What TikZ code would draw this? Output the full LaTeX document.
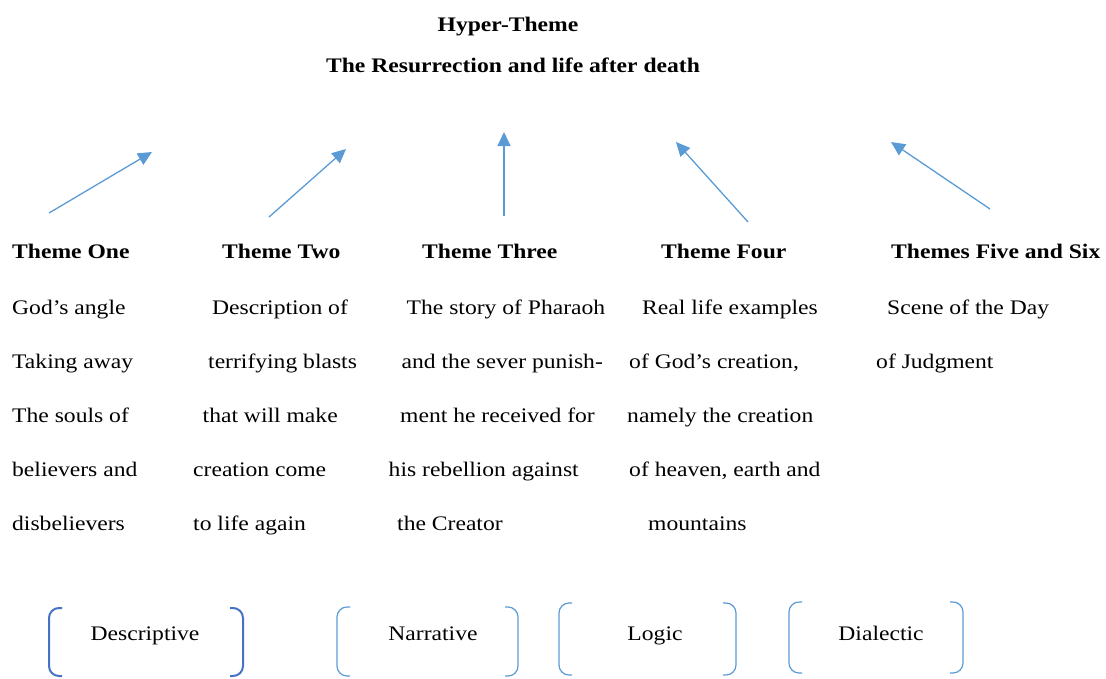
\documentclass[tikz,border=0pt]{standalone}
\usepackage{fontspec}
\setmainfont{Liberation Serif}[FakeStretch=1.14]
\usetikzlibrary{arrows.meta}
\definecolor{arrowblue}{HTML}{5B9BD5}
\definecolor{darkblue}{HTML}{4472C4}
\tikzset{
  txt/.style={anchor=base west, inner sep=0pt, font=\fontsize{20.7}{24}\selectfont},
  hd/.style={anchor=base west, inner sep=0pt, font=\fontsize{20.7}{24}\selectfont\bfseries},
  ttl/.style={anchor=base, inner sep=0pt, font=\fontsize{20.7}{24}\selectfont\bfseries},
  lbl/.style={anchor=base, inner sep=0pt, font=\fontsize{20.7}{24}\selectfont},
  upar/.style={draw=arrowblue, line width=1.3pt, -{Triangle[length=14pt,width=13pt]}},
  brk/.style={draw=arrowblue, line width=1.2pt, rounded corners=10pt},
  brkdark/.style={brk, draw=darkblue, line width=2pt}
}
\begin{document}
\begin{tikzpicture}[x=1pt,y=-1pt]
\useasboundingbox (0,0) rectangle (1106,678);
% title
\node[ttl] (hyper) at (508,31) {Hyper-Theme};
\node[ttl] (resur) at (513,72) {The Resurrection and life after death};
% arrows
\coordinate (a1s) at (49,213);  \coordinate (a1e) at (152,152);
\coordinate (a2s) at (269,217); \coordinate (a2e) at (346,149);
\coordinate (a3s) at (504,216); \coordinate (a3e) at (504,132);
\coordinate (a4s) at (748,222); \coordinate (a4e) at (676,142);
\coordinate (a5s) at (990,209); \coordinate (a5e) at (891,142);
\draw[upar] (a1s) -- (a1e);
\draw[upar] (a2s) -- (a2e);
\draw[upar] (a3s) -- (a3e);
\draw[upar] (a4s) -- (a4e);
\draw[upar] (a5s) -- (a5e);
% headings
\node[hd] (h1) at (12,258) {Theme One};
\node[hd] (h2) at (222,258) {Theme Two};
\node[hd] (h3) at (422,258) {Theme Three};
\node[hd] (h4) at (661,258) {Theme Four};
\node[hd] (h5) at (891,258) {Themes Five and Six};
% column 1
\node[txt] (c1a) at (12,314) {God’s angle};
\node[txt] (c1b) at (12,368) {Taking away};
\node[txt] (c1c) at (12,422) {The souls of};
\node[txt] (c1d) at (12,476) {believers and};
\node[txt] (c1e) at (12,530) {disbelievers};
% column 2
\node[txt] (c2a) at (212,314) {Description of};
\node[txt] (c2b) at (208,368) {terrifying blasts};
\node[txt] (c2c) at (202.5,422) {that will make};
\node[txt] (c2d) at (193,476) {creation come};
\node[txt] (c2e) at (193,530) {to life again};
% column 3
\node[txt] (c3a) at (406.5,314) {The story of Pharaoh};
\node[txt] (c3b) at (401.5,368) {and the sever punish-};
\node[txt] (c3c) at (400,422) {ment he received for};
\node[txt] (c3d) at (388.5,476) {his rebellion against};
\node[txt] (c3e) at (397,530) {the Creator};
% column 4
\node[txt] (c4a) at (642,314) {Real life examples};
\node[txt] (c4b) at (629,368) {of God’s creation,};
\node[txt] (c4c) at (627,422) {namely the creation};
\node[txt] (c4d) at (629,476) {of heaven, earth and};
\node[txt] (c4e) at (648,530) {mountains};
% column 5
\node[txt] (c5a) at (887,314) {Scene of the Day};
\node[txt] (c5b) at (876,368) {of Judgment};
% bracket boxes
\node[lbl] (desc) at (145,640) {Descriptive};
\draw[brkdark] (62,608) -- (49,608) -- (49,676) -- (62,676);
\draw[brkdark] (230,608) -- (243,608) -- (243,676) -- (230,676);
\node[lbl] (narr) at (433,640) {Narrative};
\draw[brk] (350,607) -- (337,607) -- (337,676) -- (350,676);
\draw[brk] (505,607) -- (518,607) -- (518,676) -- (505,676);
\node[lbl] (logic) at (655,640) {Logic};
\draw[brk] (572,603) -- (559,603) -- (559,675) -- (572,675);
\draw[brk] (723,603) -- (736,603) -- (736,675) -- (723,675);
\node[lbl] (dial) at (881,640) {Dialectic};
\draw[brk] (802,602) -- (789,602) -- (789,673) -- (802,673);
\draw[brk] (950,602) -- (963,602) -- (963,673) -- (950,673);
\end{tikzpicture}
\end{document}
